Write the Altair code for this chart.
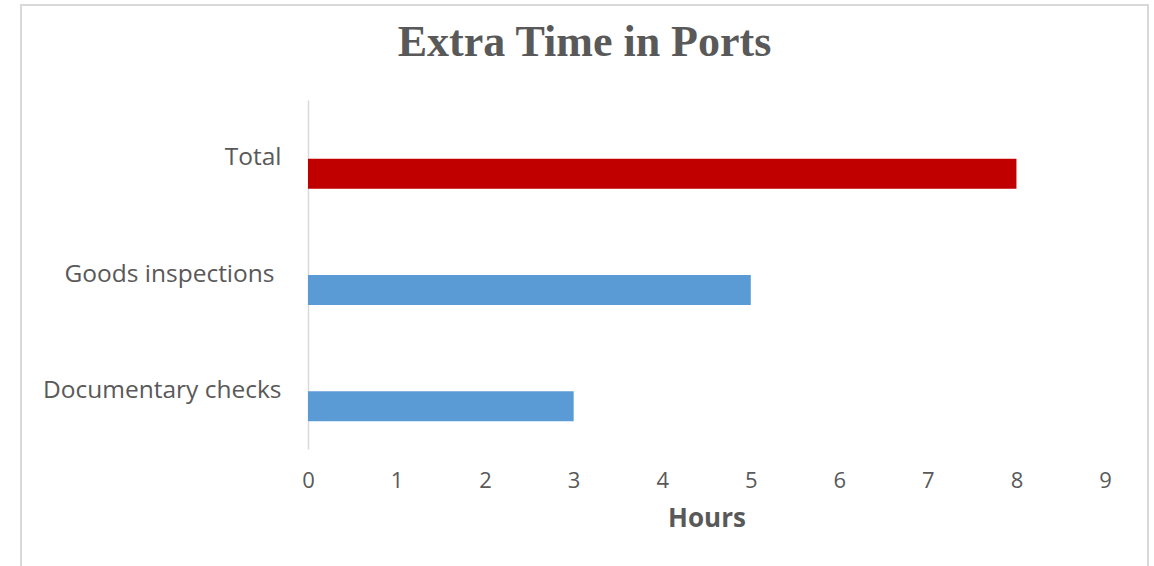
import altair as alt
import pandas as pd

categories = ["Total", "Goods inspections", "Documentary checks"]
hours = [8, 5, 3]
colors = ["#C00000", "#5B9BD5", "#5B9BD5"]
x_ticks = [0, 1, 2, 3, 4, 5, 6, 7, 8, 9]

df = pd.DataFrame({"category": categories, "hours": hours, "color": colors})

text_color = "#595959"
font = "Open Sans"

bars = alt.Chart(df).mark_bar(height=30, yOffset=15.5).encode(
    y=alt.Y(
        "category:N",
        sort=categories,
        scale=alt.Scale(paddingInner=0, paddingOuter=0),
        axis=alt.Axis(
            title=None,
            ticks=False,
            domain=True,
            domainColor="#d9d9d9",
            domainWidth=1.5,
            labelFont=font,
            labelFontSize=24.5,
            labelColor=text_color,
            labelPadding={
                "condition": {"test": "datum.label == 'Goods inspections'", "value": 34},
                "value": 27,
            },
            labelLimit=400,
            grid=False,
        ),
    ),
    x=alt.X(
        "hours:Q",
        scale=alt.Scale(domain=[0, 9], nice=False),
        axis=alt.Axis(
            title="Hours",
            values=x_ticks,
            ticks=False,
            domain=False,
            grid=False,
            labelFlush=False,
            labelFont=font,
            labelFontSize=22,
            labelColor=text_color,
            labelPadding=21,
            titleFont=font,
            titleFontSize=26,
            titleFontWeight="bold",
            titleColor=text_color,
            titlePadding=14,
        ),
    ),
    color=alt.Color("color:N", scale=None, legend=None),
)

border = alt.Chart(alt.Data(values=[{"b": 1}])).mark_rect(
    fill=None, stroke="#d9d9d9", strokeWidth=2
).encode(
    x=alt.value(-287),
    x2=alt.value(840),
    y=alt.value(-95),
    y2=alt.value(480),
)

chart = alt.layer(border, bars).properties(
    width=797,
    height=349,
    autosize=alt.AutoSizeParams(type="none"),
    padding={"left": 308, "top": 100, "right": 49, "bottom": 117},
    title=alt.TitleParams(
        "Extra Time in Ports",
        font="Liberation Serif",
        fontSize=44,
        fontWeight="bold",
        color=text_color,
        anchor="middle",
        frame="group",
        dx=-122,
        baseline="alphabetic",
        offset=-96,
    ),
).configure(background="white", view=alt.ViewConfig(stroke=None))

chart.save("out.html", embed_options={"renderer": "svg", "actions": False})
